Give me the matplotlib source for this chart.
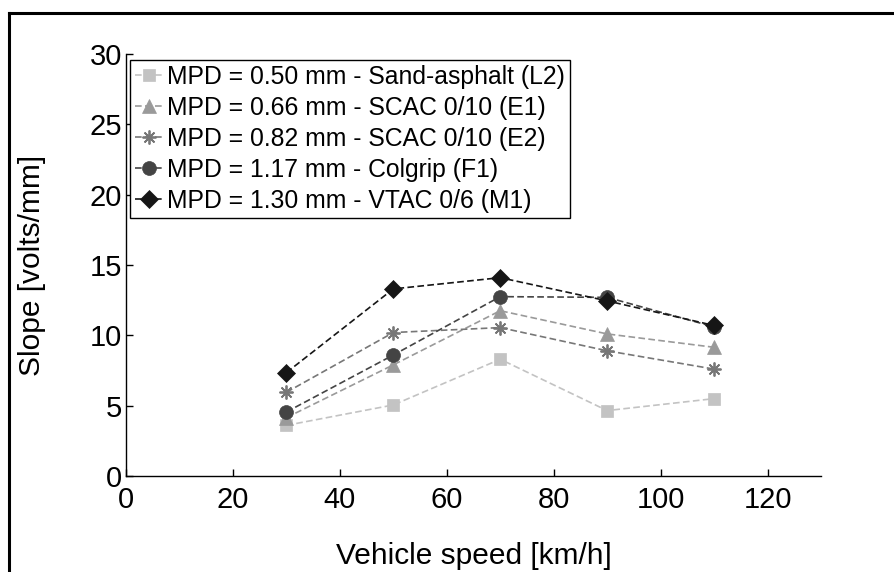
import matplotlib
matplotlib.use("Agg")
import matplotlib.pyplot as plt
from matplotlib.lines import Line2D

plt.rcParams['font.family'] = ['Liberation Sans', 'DejaVu Sans']

speeds = [30, 50, 70, 90, 110]
labels = [
    "MPD = 0.50 mm - Sand-asphalt (L2)",
    "MPD = 0.66 mm - SCAC 0/10 (E1)",
    "MPD = 0.82 mm - SCAC 0/10 (E2)",
    "MPD = 1.17 mm - Colgrip (F1)",
    "MPD = 1.30 mm - VTAC 0/6 (M1)",
]
slope_L2 = [3.6, 5.05, 8.3, 4.65, 5.5]
slope_E1 = [4.15, 7.9, 11.75, 10.1, 9.15]
slope_E2 = [5.95, 10.2, 10.55, 8.9, 7.6]
slope_F1 = [4.55, 8.6, 12.75, 12.7, 10.6]
slope_M1 = [7.35, 13.3, 14.1, 12.45, 10.7]

series = [slope_L2, slope_E1, slope_E2, slope_F1, slope_M1]
colors = ["#c3c3c3", "#9a9a9a", "#777777", "#444444", "#161616"]
markers = ["s", "^", (8, 2, 0), "o", "D"]
msizes = [8.5, 10, 10, 10, 9]

fig = plt.figure(figsize=(8.94, 5.72), dpi=100)
ax = fig.add_axes([126/894, 1-476/572, (821-126)/894, (476-54)/572])

for ys, c, m, ms, lab in zip(series, colors, markers, msizes, labels):
    ax.plot(speeds, ys, linestyle=(0, (4, 2)), color=c, linewidth=1.2,
            marker=m, markersize=ms, markerfacecolor=c, markeredgecolor=c,
            markeredgewidth=1.3 if m == (8, 2, 0) else 0.5, label=lab)

ax.set_xlim(0, 130)
ax.set_ylim(0, 30)
ax.set_xticks([0, 20, 40, 60, 80, 100, 120])
ax.set_yticks([0, 5, 10, 15, 20, 25, 30])
ax.spines['top'].set_visible(False)
ax.spines['right'].set_visible(False)
for s in ('left', 'bottom'):
    ax.spines[s].set_linewidth(1.0)
ax.tick_params(direction='in', length=5, width=1.0, labelsize=21)
ax.tick_params(axis='y', pad=3)
ax.tick_params(axis='x', pad=7)

ax.set_xlabel("Vehicle speed [km/h]", fontsize=21.5)
ax.set_ylabel("Slope [volts/mm]", fontsize=21.5)
ax.xaxis.set_label_coords(0.5, (476-542)/422)
ax.yaxis.set_label_coords((46-126)/695, 0.5)

leg = ax.legend(loc='upper left', bbox_to_anchor=((130-126)/695, (476-60)/422),
                borderaxespad=0, fontsize=17.8, frameon=True, fancybox=False,
                edgecolor='black', framealpha=1, handlelength=1.1,
                handletextpad=0.2, labelspacing=0.28, borderpad=0.2)
leg.get_frame().set_linewidth(1.0)

# figure border lines (top and left)
fig.add_artist(Line2D([9/894, 9/894], [0, 1-13/572], transform=fig.transFigure,
                      color='black', linewidth=2.2))
fig.add_artist(Line2D([9/894, 1], [1-13/572, 1-13/572], transform=fig.transFigure,
                      color='black', linewidth=2.2))

fig.savefig("out.png", dpi=100)
